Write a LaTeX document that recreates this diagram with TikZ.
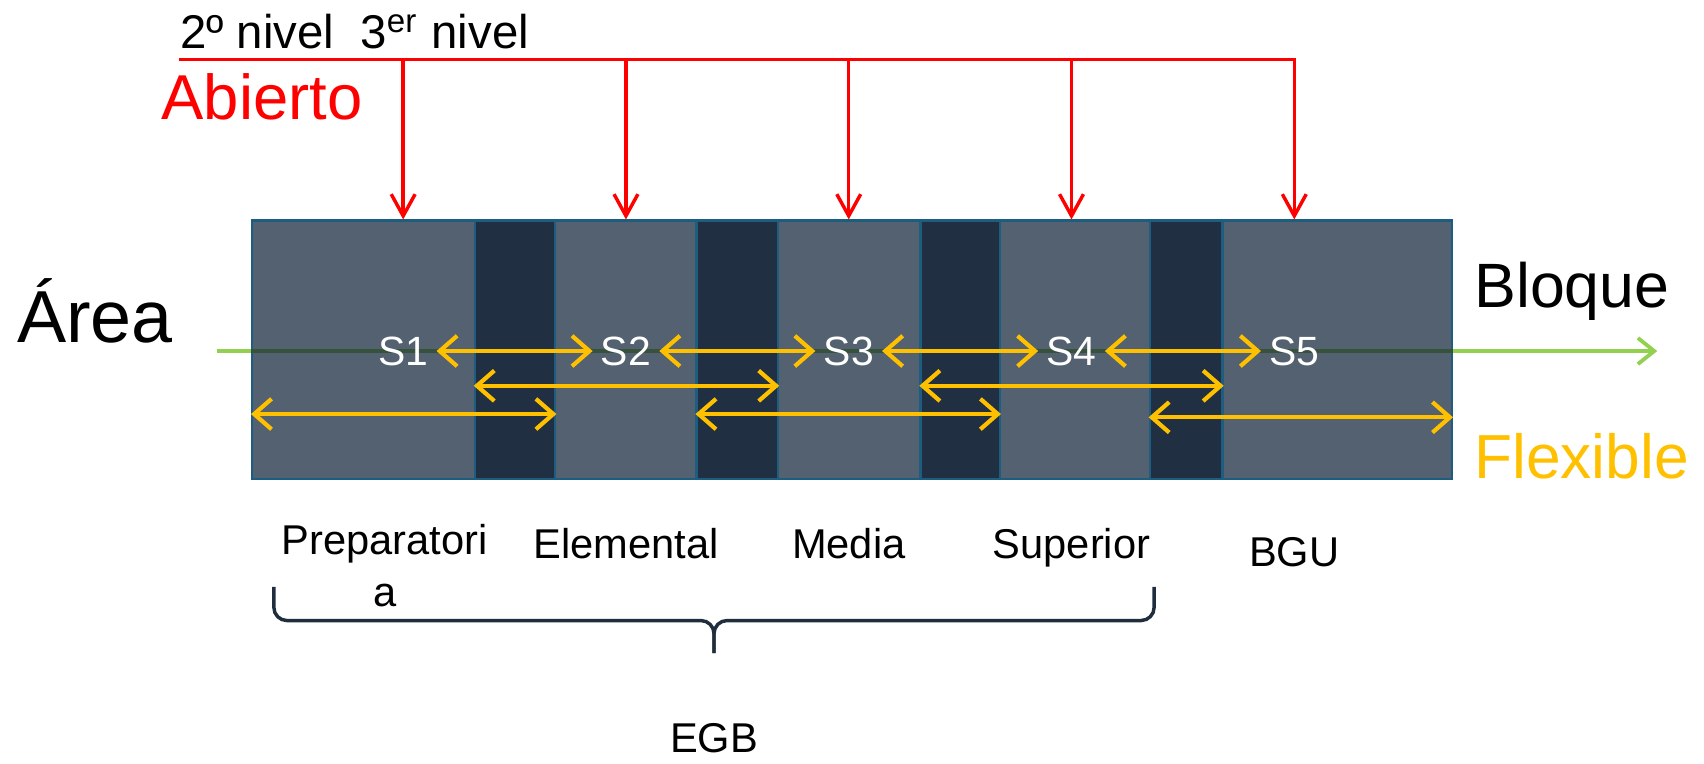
\documentclass[tikz,border=0pt]{standalone}
\usepackage{fontspec}
\setmainfont{Liberation Sans}
\usetikzlibrary{arrows.meta,positioning}
\definecolor{panelgray}{HTML}{536170}
\definecolor{stripnavy}{HTML}{203042}
\definecolor{edgeblue}{HTML}{1D5E80}
\definecolor{flexyellow}{HTML}{FFC000}
\definecolor{axisgreen}{HTML}{92D050}
\definecolor{axisdark}{HTML}{36523A}
\definecolor{bracenavy}{HTML}{1F2D3D}
\tikzset{panel/.style={rectangle,draw=edgeblue,fill=panelgray,line width=0.6pt,inner sep=0,minimum height=23.8mm}}
\tikzset{strip/.style={panel,fill=stripnavy}}
\tikzset{sem/.style={text=white,inner sep=0.7mm,font=\fontsize{10.7}{12}\selectfont}}
\tikzset{flex/.style={draw=flexyellow,line width=1.1pt,line cap=round,>={Straight Barb[length=1.6mm,width=2.8mm]},<->}}
\tikzset{redline/.style={draw=red,line width=0.9pt}}
\tikzset{redarrow/.style={redline,>={Straight Barb[length=2mm,width=2.2mm]},->}}
\tikzset{axisline/.style={draw=axisgreen,line width=1pt,>={Straight Barb[length=1.5mm,width=2.4mm]},->}}
\tikzset{word/.style={inner sep=0,anchor=base west}}
\tikzset{stage/.style={inner sep=0,font=\fontsize{10.9}{13.4}\selectfont,text height=2.8mm,text depth=0.8mm}}
\tikzset{stagetwo/.style={inner sep=0,font=\fontsize{10.9}{13.4}\selectfont,align=center}}
\tikzset{bracket/.style={draw=bracenavy,line width=0.9pt,rounded corners=1.2mm}}

\begin{document}
\begin{tikzpicture}[x=0.1mm,y=-0.1mm,node distance=20.5mm]
    \useasboundingbox (0,0) rectangle (1568,703);

    % green axis under the blocks
    \coordinate (g0) at (200,323);
    \coordinate (g1) at (1525,323);
    \path[axisline] (g0) -- (g1);

    \node[panel,minimum width=110.4mm] (panel) at (784,322) {};
    \node[strip,minimum width=7.4mm] (d1) at (474,322) {};
    \node[strip,minimum width=7.5mm] (d2) at (678.5,322) {};
    \node[strip,minimum width=7.3mm] (d3) at (883.5,322) {};
    \node[strip,minimum width=6.7mm] (d4) at (1091.5,322) {};
    \path[draw=axisdark,line width=1pt] (panel.west |- g0) -- (panel.east |- g0);

    \node[sem] (S1) at (371,323) {S1};
    \node[sem,right of=S1] (S2) {S2};
    \node[sem,right of=S2] (S3) {S3};
    \node[sem,right of=S3] (S4) {S4};
    \node[sem,right of=S4] (S5) {S5};

    \node[word,font=\fontsize{12.4}{15}\selectfont] (nivel) at (165,45) {2º nivel\ \ 3\textsuperscript{er} nivel};
    \node[word,text=red,font=\fontsize{16.6}{20}\selectfont] (abierto) at (148,110) {Abierto};
    \node[word,font=\fontsize{19.3}{23}\selectfont] (area) at (15,315) {Área};
    \node[word,font=\fontsize{16.4}{20}\selectfont] (bloque) at (1356,283) {Bloque};
    \node[word,text=flexyellow,font=\fontsize{16.3}{20}\selectfont] (flexible) at (1356,440) {Flexible};

    \node[stagetwo,below of=S1,node distance=19.75mm,xshift=-1.7mm] (prep) {Preparatori\\a};
    \node[stage,below of=S2,node distance=18.1mm] (elem) {Elemental};
    \node[stage,below of=S3,node distance=18.1mm] (media) {Media};
    \node[stage,below of=S4,node distance=18.1mm] (sup) {Superior};
    \node[stage,below of=S5,node distance=18.8mm] (bgu) {BGU};

    \coordinate (bL) at (252,540);
    \coordinate (bR) at (1062,540);
    \coordinate (bmid) at (657,571);
    \coordinate (btip) at (657,601);
    \node[stage,below of=btip,node distance=8.1mm] (egb) {EGB};

        \path[bracket] (bL) |- (bmid) -- (btip);
        \path[bracket] (bR) |- (bmid) -- (btip);

        \coordinate (top) at (165,55);
        \path[redarrow] (top) -| (S5 |- panel.north);
        \path[redarrow] (S1 |- top) -- (S1 |- panel.north);
        \path[redarrow] (S2 |- top) -- (S2 |- panel.north);
        \path[redarrow] (S3 |- top) -- (S3 |- panel.north);
        \path[redarrow] (S4 |- top) -- (S4 |- panel.north);

        \path[flex] (S1) -- (S2);
        \path[flex] (S2) -- (S3);
        \path[flex] (S3) -- (S4);
        \path[flex] (S4) -- (S5);
        \path[flex] ([yshift=-3.3mm]d1.west) -- ([yshift=-3.3mm]d2.east);
        \path[flex] ([yshift=-3.3mm]d3.west) -- ([yshift=-3.3mm]d4.east);
        \path[flex] ([yshift=-5.9mm]panel.west) -- ([yshift=-5.9mm]d1.east);
        \path[flex] ([yshift=-5.9mm]d2.west) -- ([yshift=-5.9mm]d3.east);
        \path[flex] ([yshift=-6.2mm]d4.west) -- ([yshift=-6.2mm]panel.east);
\end{tikzpicture}
\end{document}
